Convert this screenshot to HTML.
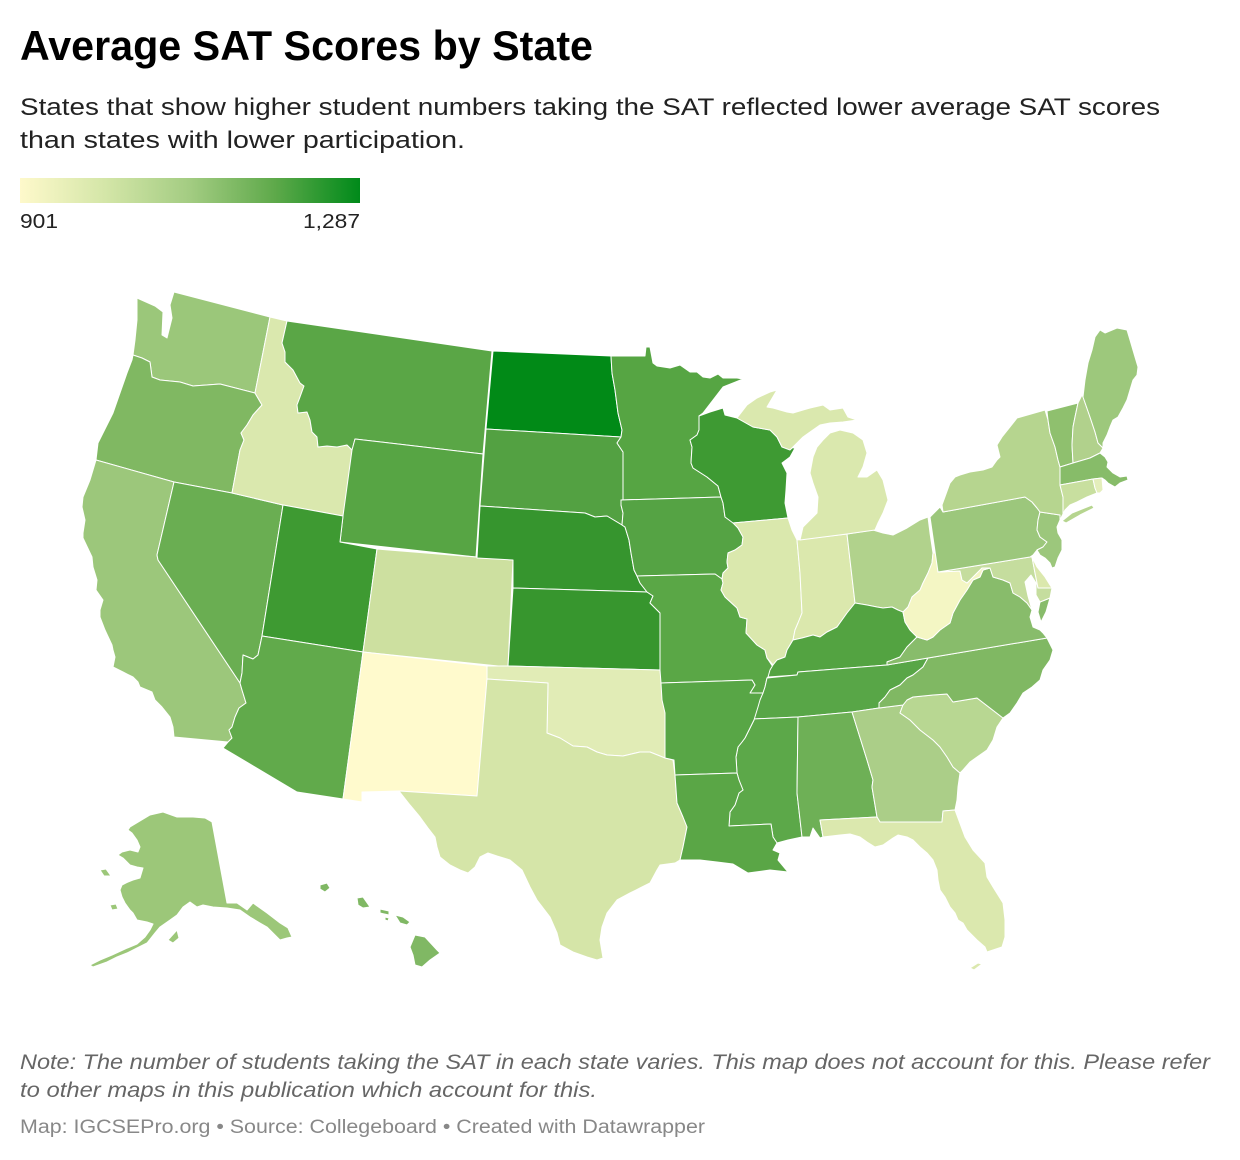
<!DOCTYPE html>
<html><head><meta charset="utf-8"><style>
html,body{margin:0;padding:0;background:#fff;}
svg{display:block;}
</style></head><body>
<svg width="1240" height="1160" viewBox="0 0 1240 1160" xmlns="http://www.w3.org/2000/svg" font-family="'Liberation Sans', Arial, sans-serif">
<defs>
<linearGradient id="lg" x1="0" x2="1" y1="0" y2="0">
<stop offset="0" stop-color="#fef9cb"/>
<stop offset="0.25" stop-color="#d4e6a8"/>
<stop offset="0.5" stop-color="#a3cc82"/>
<stop offset="0.75" stop-color="#5ea94a"/>
<stop offset="1" stop-color="#008a1a"/>
</linearGradient>
</defs>
<rect width="1240" height="1160" fill="#fff"/>
<text x="20" y="60" font-size="42" font-weight="700" fill="#000" textLength="573" lengthAdjust="spacingAndGlyphs">Average SAT Scores by State</text>
<text x="20" y="115" font-size="24" fill="#222" textLength="1140" lengthAdjust="spacingAndGlyphs">States that show higher student numbers taking the SAT reflected lower average SAT scores</text>
<text x="20" y="148" font-size="24" fill="#222" textLength="445" lengthAdjust="spacingAndGlyphs">than states with lower participation.</text>
<rect x="20" y="178" width="340" height="25" fill="url(#lg)"/>
<text x="20" y="228" font-size="20" fill="#222" textLength="38" lengthAdjust="spacingAndGlyphs">901</text>
<text x="303" y="228" font-size="20" fill="#222" textLength="57" lengthAdjust="spacingAndGlyphs">1,287</text>

<g stroke="#fff" stroke-width="1" stroke-linejoin="round">
<polygon fill="#9bc77a" points="137,298 155,306 163,312 162,335 167,338 172,318 170,305 174,292 270,317 255,393 220,384 193,386 180,382 160,380 152,377 150,362 142,358 133,355 135,340 137,320"/>
<polygon fill="#80b862" points="133,355 142,358 150,362 152,377 160,380 180,382 193,386 220,384 255,393 262,405 253,415 247,425 241,433 244,440 240,450 232,493 174,482 96,460 98,443 103,433 113,413 120,393 127,373 132,360"/>
<polygon fill="#9cc77b" points="96,460 174,482 157,555 158,560 240,683 242,690 246,703 239,708 235,717 232,727 229,730 232,738 228,742 174,737 173,727 170,717 162,707 155,700 152,692 140,687 138,682 133,677 123,672 113,667 115,657 113,650 112,645 105,630 100,617 100,610 103,600 96,590 97,580 93,567 92,557 83,538 83,533 85,520 82,507 83,497 90,480"/>
<polygon fill="#6aae52" points="174,482 232,493 283,505 262,636 258,655 253,659 248,657 243,655 242,673 240,683 158,560 157,555"/>
<polygon fill="#dae8ae" points="270,317 287,321 282,343 285,352 285,362 293,370 300,383 304,386 300,397 297,405 298,413 307,412 310,420 312,432 317,437 318,447 327,446 337,447 347,445 352,450 355,439 343,516 283,505 232,493 240,450 244,440 241,433 247,425 253,415 262,405 255,393"/>
<polygon fill="#5aa646" points="287,321 492,351 483,454 355,439 352,450 347,445 337,447 327,446 318,447 317,437 312,432 310,420 307,412 298,413 297,405 300,397 304,386 300,383 293,370 285,362 285,352 282,343"/>
<polygon fill="#57a544" points="355,439 483,454 476,557 340,542 343,516 352,450"/>
<polygon fill="#3e9a32" points="283,505 343,516 340,542 377,549 363,652 262,636"/>
<polygon fill="#cde0a0" points="377,549 476,557 513,560 508,667 363,652"/>
<polygon fill="#61aa4b" points="262,636 363,652 343,799 297,792 223,748 228,742 232,738 229,730 232,727 235,717 239,708 246,703 242,690 240,683 242,673 243,655 248,657 253,659 258,655"/>
<polygon fill="#fffacd" points="363,652 487,666 487,679 477,796 399,791 362,792 362,802 343,799"/>
<polygon fill="#018a17" points="493,351 611,356 612,373 615,390 618,413 622,430 621,437 486,429"/>
<polygon fill="#53a142" points="486,429 621,437 617,443 623,452 623,500 621,505 623,513 622,525 617,522 607,516 595,517 585,513 480,506"/>
<polygon fill="#36952e" points="480,506 585,513 595,517 607,516 617,522 622,525 625,527 629,540 631,553 634,570 637,576 640,583 647,592 513,588 513,560 477,558"/>
<polygon fill="#37962e" points="513,588 647,592 653,596 650,603 660,613 660,670 508,666"/>
<polygon fill="#e1ecb6" points="487,666 508,666 660,670 662,687 665,710 665,758 650,752 640,752 623,756 607,755 597,752 587,747 573,746 560,738 547,733 548,683 487,679"/>
<polygon fill="#d5e5a8" points="487,679 548,683 547,733 560,738 573,746 587,747 597,752 607,755 623,756 640,752 650,752 665,758 673,760 675,775 677,803 683,817 687,827 683,847 680,860 675,863 660,865 657,870 650,883 640,888 630,893 617,900 607,913 602,927 600,940 603,958 597,960 587,957 573,952 560,945 557,933 550,917 537,900 530,887 522,870 510,860 497,856 488,853 480,857 475,867 468,873 460,870 450,865 440,857 437,847 435,837 428,828 420,817 410,805 399,791 477,796"/>
<polygon fill="#56a543" points="611,356 645,356 646,347 650,347 653,363 657,366 670,368 680,365 690,372 697,372 703,377 710,378 718,374 723,378 737,378 743,379 723,387 703,413 699,416 699,430 697,435 690,440 692,447 691,463 693,468 707,477 718,486 721,497 621,500 623,500 623,452 617,443 621,437 622,430 618,413 615,390 612,373"/>
<polygon fill="#55a344" points="621,500 721,497 723,503 725,517 733,522 738,528 743,537 742,545 735,550 728,553 727,562 728,568 723,573 722,579 715,574 637,576 634,570 631,553 629,540 625,527 622,525 623,513 621,505"/>
<polygon fill="#5aa746" points="637,576 715,574 722,579 723,583 721,590 725,597 737,608 740,617 747,619 746,633 757,645 765,650 767,658 773,667 770,675 767,678 765,687 763,693 750,693 755,685 752,680 661,683 660,670 660,613 650,603 653,596 647,592 640,583"/>
<polygon fill="#3e9a33" points="699,416 710,412 723,408 725,415 737,418 753,427 770,430 777,437 782,447 795,448 790,457 782,463 787,473 786,490 785,503 788,518 733,523 725,517 723,503 721,497 718,486 707,477 693,468 691,463 692,447 690,440 697,435 699,430"/>
<polygon fill="#dae8ad" points="733,523 788,518 792,530 797,540 800,573 802,613 798,623 795,630 793,640 787,650 785,657 777,660 773,665 767,658 765,650 757,645 746,633 747,619 740,617 737,608 725,597 721,590 723,583 722,579 723,573 728,568 727,562 728,553 735,550 742,545 743,537 738,528"/>
<polygon fill="#dbe8ad" points="797,540 847,534 855,603 847,613 837,627 827,632 820,637 813,635 802,638 793,640 795,630 798,623 802,613 800,573"/>
<polygon fill="#b1d28c" points="847,534 873,530 883,533 893,535 907,528 920,520 928,517 930,533 933,553 932,563 928,573 923,583 920,590 912,597 908,607 903,612 898,610 892,607 883,608 877,607 867,605 855,603"/>
<polygon fill="#dae8ae" points="800,540 803,527 817,513 818,497 813,483 810,473 813,457 817,447 823,440 830,433 840,430 853,433 863,440 867,453 863,467 858,477 867,477 877,470 883,480 888,500 883,513 878,523 875,530 847,534"/>
<polygon fill="#dae8ae" points="737,418 747,405 757,398 770,392 777,390 767,407 773,408 787,412 793,413 803,410 810,408 823,405 830,410 843,408 848,417 857,420 843,422 830,423 820,425 810,432 803,437 797,443 790,450 782,447 777,437 770,430 753,427"/>
<polygon fill="#53a341" points="773,665 777,660 785,657 787,650 793,640 802,638 813,635 820,637 827,632 837,627 847,613 855,603 867,605 877,607 883,608 892,607 898,610 903,612 905,622 910,630 917,637 907,647 900,657 887,662 887,665 798,672 797,675 768,677 770,670"/>
<polygon fill="#58a647" points="767,678 797,675 798,672 887,665 928,658 923,667 913,675 907,678 900,685 890,690 885,697 879,703 879,708 852,712 798,717 753,719 755,713 758,703 762,693 763,693 765,687"/>
<polygon fill="#5ca849" points="753,719 798,717 797,793 802,837 788,840 777,843 773,837 771,824 729,826 730,812 735,805 739,793 743,790 739,780 737,773 736,757 738,747 742,742 745,738 748,732 754,720"/>
<polygon fill="#58a646" points="661,683 752,680 755,685 750,693 763,693 760,700 758,707 754,720 748,732 745,738 742,742 738,747 736,757 737,773 675,775 674,760 665,758 665,713 662,700"/>
<polygon fill="#5aa646" points="675,775 737,773 739,780 743,790 739,793 735,805 730,812 729,826 771,824 773,837 777,843 773,850 780,853 778,860 788,872 770,870 748,873 733,864 717,862 700,860 680,860 683,847 687,827 683,817 677,803"/>
<polygon fill="#6eb056" points="798,717 852,712 867,760 873,780 872,787 877,817 820,820 823,837 820,838 813,828 810,837 802,837 797,793"/>
<polygon fill="#abce88" points="852,712 879,708 903,705 900,713 910,720 920,730 933,740 940,747 947,757 953,767 960,773 958,787 957,800 955,810 943,811 942,822 880,822 877,817 872,787 873,780 867,760"/>
<polygon fill="#dbe8ae" points="820,820 877,817 880,822 942,822 943,811 955,810 965,837 973,850 985,863 987,877 993,887 1003,903 1005,920 1005,937 1002,947 993,950 987,952 985,947 977,940 967,930 963,923 958,920 955,913 950,907 945,897 940,890 938,880 937,870 933,860 927,853 920,847 913,840 907,837 898,835 893,838 883,845 875,847 867,842 860,837 850,834 840,835 823,837"/>
<polygon fill="#dbe8ae" points="970,968 978,963 982,964 974,970"/>
<polygon fill="#b8d792" points="903,705 907,700 913,697 933,695 947,694 953,702 977,698 1003,718 997,727 993,740 987,750 977,757 970,762 963,770 960,773 953,767 947,757 940,747 933,740 920,730 910,720 900,713"/>
<polygon fill="#80b863" points="928,658 1047,638 1053,650 1050,660 1043,670 1040,680 1032,687 1023,693 1017,703 1010,713 1003,718 977,698 953,702 947,694 933,695 913,697 907,700 903,705 879,708 879,703 885,697 890,690 900,685 907,678 913,675 923,667"/>
<polygon fill="#88bc6b" points="917,637 927,640 933,637 940,630 950,623 953,613 960,600 967,590 973,580 980,577 983,570 990,568 993,577 1003,580 1010,583 1013,593 1020,597 1027,603 1032,610 1030,617 1033,627 1040,630 1043,633 1047,638 928,658 887,665 887,662 900,657 907,647"/>
<polygon fill="#88bc6b" points="1040,602 1050,598 1046,612 1041,622 1038,612"/>
<polygon fill="#f4f6c4" points="903,612 908,607 912,597 920,590 923,583 928,573 932,563 933,553 937,553 938,572 960,571 962,580 967,583 973,577 982,568 990,568 983,570 980,577 973,580 967,590 960,600 953,613 950,623 940,630 933,637 927,640 917,637 910,630 905,622"/>
<polygon fill="#c5dd9e" points="938,572 1030,557 1032,557 1035,573 1038,588 1052,588 1050,598 1040,602 1036,595 1036,583 1031,575 1025,582 1028,596 1032,610 1027,603 1020,597 1013,593 1010,583 1003,580 993,577 990,568 982,568 973,577 967,583 962,580 960,571"/>
<polygon fill="#dbe8ad" points="1032,557 1037,567 1045,577 1050,585 1052,588 1038,588 1035,573"/>
<polygon fill="#9cc77c" points="930,517 940,507 943,512 1025,497 1032,502 1037,508 1040,512 1038,520 1037,530 1040,537 1047,542 1043,547 1037,550 1033,555 1030,557 938,572"/>
<polygon fill="#9cc77c" points="1040,512 1060,515 1060,520 1057,527 1058,533 1062,540 1062,550 1058,558 1055,567 1052,568 1050,563 1045,558 1040,555 1037,550 1043,547 1047,542 1040,537 1037,530 1038,520"/>
<polygon fill="#b6d58f" points="943,512 942,505 950,483 955,477 960,475 970,472 983,470 992,467 997,460 1000,457 997,445 1002,437 1010,427 1017,418 1045,410 1048,420 1050,433 1055,447 1058,460 1060,467 1060,485 1063,497 1063,514 1060,520 1060,515 1040,512 1037,508 1032,502 1025,497"/>
<polygon fill="#b6d58f" points="1062,521 1072,513 1092,505 1094,508 1080,515 1066,523"/>
<polygon fill="#8fc06e" points="1047,411 1078,403 1075,417 1073,427 1072,445 1073,463 1060,467 1058,460 1055,447 1050,433 1048,420"/>
<polygon fill="#b1d18c" points="1078,403 1082,395 1083,397 1090,417 1095,432 1098,443 1103,448 1100,453 1090,458 1073,463 1072,445 1073,427 1075,417"/>
<polygon fill="#9dc87c" points="1083,397 1085,380 1088,363 1092,350 1095,337 1100,330 1105,333 1117,328 1127,330 1130,340 1135,357 1138,367 1137,375 1133,380 1130,390 1127,400 1123,408 1118,417 1113,420 1110,427 1107,435 1103,443 1103,448 1098,443 1095,432 1090,417"/>
<polygon fill="#87bc69" points="1060,467 1073,463 1090,458 1100,453 1105,457 1108,462 1107,467 1113,473 1120,477 1127,476 1128,480 1120,483 1115,487 1108,483 1105,480 1102,478 1093,479 1060,485"/>
<polygon fill="#c8df9f" points="1060,485 1093,479 1095,488 1097,493 1087,497 1077,502 1070,505 1065,510 1063,514 1063,497"/>
<polygon fill="#e4eebb" points="1093,479 1102,478 1103,490 1100,493 1097,493 1095,488"/>
<!-- Alaska -->
<polygon fill="#9cc779" points="150,815 163,812 177,817 193,817 205,818 212,822 227,903 237,903 247,910 253,903 267,913 280,923 288,928 292,937 287,938 280,940 273,933 267,927 260,923 250,917 240,910 227,908 213,907 203,905 197,907 190,902 183,907 177,915 170,920 160,927 155,933 147,943 137,948 127,953 117,957 107,962 93,967 90,965 100,960 112,955 125,949 137,944 145,937 150,930 153,924 147,922 137,920 133,913 130,910 125,903 122,897 120,890 122,885 128,882 133,880 140,878 143,868 137,867 130,865 123,858 118,855 122,852 130,850 138,852 140,847 137,840 132,833 128,830 130,827"/>
<polygon fill="#9cc779" points="168,940 177,930 179,938 173,943"/>
<polygon fill="#9cc779" points="100,870 106,869 111,876 104,876"/>
<polygon fill="#9cc779" points="110,905 116,904 118,909 112,910"/>
<!-- Hawaii -->
<polygon fill="#80b864" points="410,947 415,935 425,937 437,950 440,953 430,960 422,967 415,965 413,955"/>
<polygon fill="#80b864" points="395,915 403,917 410,922 407,925 400,923"/>
<polygon fill="#80b864" points="380,909 389,911 389,915 380,913"/>
<polygon fill="#80b864" points="385,917 389,918 388,921 385,920"/>
<polygon fill="#80b864" points="357,898 363,897 370,907 363,908 358,905"/>
<polygon fill="#80b864" points="320,885 327,883 330,888 325,892 320,889"/>
</g>

<text x="20" y="1069" font-size="21" font-style="italic" fill="#666" textLength="1190" lengthAdjust="spacingAndGlyphs">Note: The number of students taking the SAT in each state varies. This map does not account for this. Please refer</text>
<text x="20" y="1097" font-size="21" font-style="italic" fill="#666" textLength="577" lengthAdjust="spacingAndGlyphs">to other maps in this publication which account for this.</text>
<text x="20" y="1133" font-size="19" fill="#888" textLength="685" lengthAdjust="spacingAndGlyphs">Map: IGCSEPro.org • Source: Collegeboard • Created with Datawrapper</text>
</svg>
</body></html>
